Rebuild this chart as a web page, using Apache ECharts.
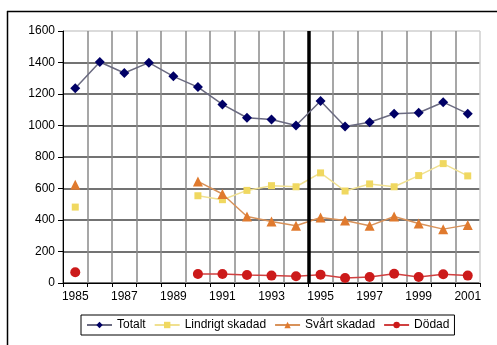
<!DOCTYPE html>
<html>
<head>
<meta charset="utf-8">
<script src="https://cdn.jsdelivr.net/npm/echarts@6/dist/echarts.min.js"></script>
<style>
  html, body { margin: 0; padding: 0; background: #fff; }
  #chart { width: 497px; height: 345px; }
</style>
</head>
<body>
<div id="chart"></div>
<script>
// Road accident casualties per year
const years = ['1985','1986','1987','1988','1989','1990','1991','1992','1993',
               '1994','1995','1996','1997','1998','1999','2000','2001'];
const totalt   = [1236, 1403, 1333, 1399, 1312, 1244, 1134, 1049, 1038, 1000, 1155, 994, 1021, 1075, 1081, 1148, 1075];
const lindrigt = [482, null, null, null, null, 554, 529, 588, 618, 611, 699, 584, 629, 611, 682, 758, 680];
const svart    = [624, null, null, null, null, 645, 565, 422, 391, 363, 416, 397, 363, 422, 378, 342, 369];
const dodad    = [68, null, null, null, null, 57, 57, 51, 47, 43, 53, 32, 38, 59, 38, 55, 47];
const yTicks   = { min: 0, max: 1600, step: 200 };
// boundary (in category units) separating 1994 and 1995
const dividerAt = 10;

const font = 'Liberation Sans, Arial, sans-serif';
const ySplitColors = ['#444','#444','#444','#444','#444','#444','#444','#444','#cfcfcf'];
const xSplitColors = years.map(() => '#8a8a8a').concat(['#cfcfcf']);

const chart = echarts.init(document.getElementById('chart'), null, { renderer: 'canvas' });
chart.setOption({
  animation: false,
  backgroundColor: '#fff',
  textStyle: { fontFamily: font },
  grid: { left: 63, right: 17, top: 31, bottom: 62, containLabel: false },
  graphic: [
    { type: 'line', shape: { x1: 7.5, y1: 11, x2: 7.5, y2: 345 }, style: { stroke: '#000', lineWidth: 1.5 } },
    { type: 'line', shape: { x1: 7, y1: 11.5, x2: 497, y2: 11.5 }, style: { stroke: '#000', lineWidth: 1.5 } }
  ],
  legend: {
    left: 81, top: 315,
    padding: [4, 5, 4, 5],
    borderColor: '#000', borderWidth: 1,
    itemGap: 8, itemWidth: 25, itemHeight: 8,
    textStyle: { fontFamily: font, fontSize: 12, color: '#000' },
    data: ['Totalt', 'Lindrigt skadad', 'Svårt skadad', 'Dödad']
  },
  xAxis: [{
    type: 'category',
    data: years,
    boundaryGap: true,
    axisLine: { lineStyle: { color: '#000', width: 1 } },
    axisTick: { show: true, interval: 0, length: 4, lineStyle: { color: '#000' } },
    axisLabel: { interval: 1, margin: 8, fontSize: 12, color: '#000', fontFamily: font },
    splitLine: { show: true, interval: 0, lineStyle: { color: xSplitColors, width: 1.5 } }
  }, {
    type: 'value',
    min: 0, max: years.length,
    show: false
  }],
  yAxis: {
    type: 'value',
    min: yTicks.min, max: yTicks.max, interval: yTicks.step,
    axisLine: { show: true, lineStyle: { color: '#000', width: 1 } },
    axisTick: { show: true, length: 5, lineStyle: { color: '#000' } },
    axisLabel: { margin: 8, fontSize: 12, color: '#000', fontFamily: font, formatter: v => String(v) },
    splitLine: { show: true, lineStyle: { color: ySplitColors, width: 1.5 } }
  },
  series: [
    {
      name: 'Totalt', type: 'line', data: totalt,
      symbol: 'diamond', symbolSize: 10,
      itemStyle: { color: '#000066' },
      lineStyle: { color: '#6a6a80', width: 1.5 },
      z: 5
    },
    {
      name: 'Lindrigt skadad', type: 'line', data: lindrigt,
      symbol: 'rect', symbolSize: 7,
      itemStyle: { color: '#f0d860' },
      lineStyle: { color: '#f0e090', width: 1.5 },
      connectNulls: false, z: 4
    },
    {
      name: 'Svårt skadad', type: 'line', data: svart,
      symbol: 'triangle', symbolSize: 10,
      itemStyle: { color: '#e07a2e' },
      lineStyle: { color: '#d8925a', width: 1.5 },
      connectNulls: false, z: 4
    },
    {
      name: 'Dödad', type: 'line', data: dodad,
      symbol: 'circle', symbolSize: 10,
      itemStyle: { color: '#cc1a1a' },
      lineStyle: { color: '#d04040', width: 1.5 },
      connectNulls: false, z: 4
    },
    {
      name: 'divider', type: 'line', xAxisIndex: 1, data: [],
      silent: true,
      markLine: {
        silent: true, symbol: 'none', label: { show: false },
        lineStyle: { color: '#000', width: 3.5, type: 'solid' },
        data: [{ xAxis: dividerAt }]
      },
      z: 6
    }
  ]
});
</script>
</body>
</html>
